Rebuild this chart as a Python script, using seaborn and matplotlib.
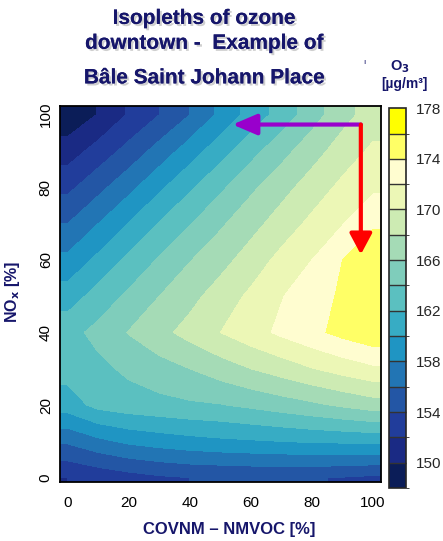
import numpy as np
import matplotlib
matplotlib.use("Agg")
import matplotlib.pyplot as plt
import matplotlib.patheffects as pe
from matplotlib.colors import ListedColormap, BoundaryNorm
import seaborn as sns

# VOC (x) and NOx (y) reduction grid, in %
voc_pct = [0, 10, 20, 30, 40, 50, 60, 70, 80, 90, 100]
nox_pct = [0, 10, 20, 30, 40, 50, 60, 70, 80, 90, 100]

# O3 [ug/m3] read from the isopleths, one row per NOx value
o3_nox_0 = [152.0, 152.6, 153.2, 153.7, 154.0, 154.1, 154.2, 154.2, 154.1, 153.9, 153.6]
o3_nox_10 = [156.3, 157.5, 158.4, 158.9, 159.3, 159.6, 159.8, 160.0, 160.2, 160.3, 160.4]
o3_nox_20 = [161.0, 162.6, 163.1, 163.4, 163.7, 163.9, 164.4, 165.0, 165.6, 166.3, 167.0]
o3_nox_30 = [162.8, 163.5, 164.4, 165.2, 166.0, 167.0, 168.0, 168.9, 169.9, 170.8, 171.6]
o3_nox_40 = [163.3, 164.6, 166.1, 167.4, 168.7, 170.0, 171.2, 172.4, 173.5, 174.6, 175.5]
o3_nox_50 = [161.0, 162.8, 164.4, 166.0, 167.4, 168.9, 170.4, 171.9, 173.1, 174.3, 175.6]
o3_nox_60 = [158.5, 160.5, 162.5, 164.2, 165.9, 167.3, 168.9, 170.6, 172.0, 174.0, 175.0]
o3_nox_70 = [156.0, 158.0, 160.1, 162.1, 163.9, 165.7, 167.3, 168.9, 170.5, 171.9, 173.8]
o3_nox_80 = [153.5, 155.4, 157.4, 159.6, 161.7, 163.6, 165.6, 167.3, 168.9, 170.5, 171.6]
o3_nox_90 = [151.0, 152.8, 154.7, 156.8, 159.0, 161.2, 163.3, 165.3, 167.2, 168.9, 170.4]
o3_nox_100 = [148.5, 150.1, 152.2, 154.0, 156.0, 158.5, 160.8, 162.8, 165.1, 167.3, 168.9]

band_levels = list(range(148, 180, 2))
cbar_ticks = [150, 154, 158, 162, 166, 170, 174, 178]
x_ticks = [0, 20, 40, 60, 80, 100]
y_ticks = [0, 20, 40, 60, 80, 100]

# arrows (scenario paths)
arrow_start = (96, 97.3)
arrow_voc_end = (54, 97.3)
arrow_nox_end = (96, 61.5)

o3 = np.array([o3_nox_0, o3_nox_10, o3_nox_20, o3_nox_30, o3_nox_40, o3_nox_50,
               o3_nox_60, o3_nox_70, o3_nox_80, o3_nox_90, o3_nox_100])

# extend edges a little so the filled field reaches the frame
xp = np.concatenate([[-2.6], voc_pct, [102.6]])
yp = np.concatenate([[-1.2], nox_pct, [102.4]])
zp = np.pad(o3, 1, mode="edge")

band_colors = ["#0b1d58", "#1a2a84", "#213d9b", "#2356a5", "#2275b4",
               "#1f95c3", "#37acc4", "#5bc0c0", "#7fcdbb", "#a5dbb6",
               "#cdebb3", "#ecf7b6", "#fffdd0", "#ffff66", "#ffff00"]
cmap = ListedColormap(band_colors)
norm = BoundaryNorm(band_levels, cmap.N)

sns.set_style("white")
plt.rcParams["font.family"] = ["Liberation Sans", "DejaVu Sans"]
navy = "#16166b"

fig = plt.figure(figsize=(4.43, 5.41), dpi=100)
ax = fig.add_axes([0.135, 0.109, 0.725, 0.695])
X, Y = np.meshgrid(xp, yp)
cs = ax.contourf(X, Y, zp, levels=band_levels, cmap=cmap, norm=norm)
ax.set_xlim(-2.6, 102.6)
ax.set_ylim(-1.2, 102.4)
ax.set_xticks(x_ticks)
ax.set_yticks(y_ticks)
ax.tick_params(axis="both", length=0, labelsize=11, labelcolor="black")
ax.tick_params(axis="x", pad=10)
ax.tick_params(axis="y", pad=5)
for lab in ax.get_yticklabels():
    lab.set_rotation(90)
    lab.set_va("center")
for sp in ax.spines.values():
    sp.set_color("black")
    sp.set_linewidth(1.3)

ax.set_xlabel("COVNM \u2013 NMVOC [%]", fontsize=12, fontweight="bold", color=navy)
ax.xaxis.set_label_coords(0.526, -0.106)
ax.set_ylabel("NO$_\\mathbf{x}$ [%]", fontsize=11.5, fontweight="bold", color=navy)
ax.yaxis.set_label_coords(-0.118, 0.505)

ax.annotate("", xy=arrow_voc_end, xytext=arrow_start,
            arrowprops=dict(arrowstyle="-|>,head_length=1.05,head_width=0.45",
                            mutation_scale=14, color="#9900cc", lw=3,
                            shrinkA=0, shrinkB=0))
ax.annotate("", xy=arrow_nox_end, xytext=arrow_start,
            arrowprops=dict(arrowstyle="-|>,head_length=0.9,head_width=0.48",
                            mutation_scale=14, color="#ff0000", lw=3,
                            shrinkA=0, shrinkB=0))

cax = fig.add_axes([0.878, 0.098, 0.038, 0.702])
cb = fig.colorbar(cs, cax=cax, ticks=cbar_ticks, drawedges=True)
cb.dividers.set_color("#333333")
cb.dividers.set_linewidth(1.0)
cb.outline.set_linewidth(1.2)
cax.tick_params(length=0, labelsize=11, pad=7)

shadow = [pe.withSimplePatchShadow(offset=(1.5, -1.5), shadow_rgbFace="#b0b0b0", alpha=0.6), pe.Normal()]
title_lines = ["Isopleths of ozone", "downtown -  Example of", "B\u00e2le Saint Johann Place"]
title_y = [0.966, 0.920, 0.856]
for txt, yy in zip(title_lines, title_y):
    fig.text(0.462, yy, txt, ha="center", va="center", fontsize=15,
             fontweight="bold", color=navy, path_effects=shadow)

fig.text(0.903, 0.877, "O$_\\mathbf{3}$", ha="center", va="center",
         fontsize=10.5, fontweight="bold", color=navy)
fig.text(0.914, 0.845, "[\u00b5g/m\u00b3]", ha="center", va="center",
         fontsize=10, fontweight="bold", color=navy)
fig.text(0.822, 0.885, "\u0131", ha="center", va="center", fontsize=6, color=navy)

fig.savefig("out.png", dpi=100, facecolor="white")
